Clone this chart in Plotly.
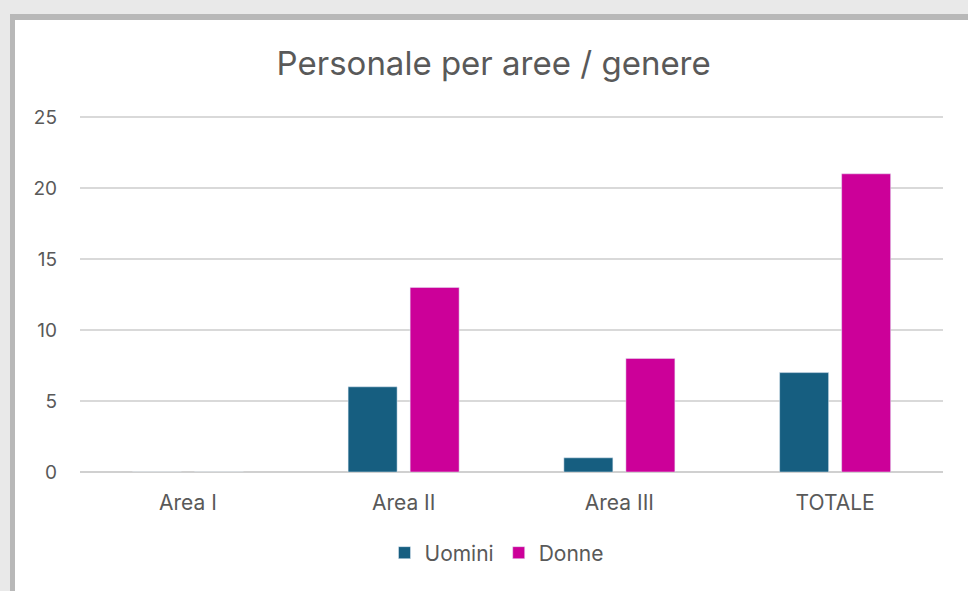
import plotly.graph_objects as go

categories = ["Area I", "Area II", "Area III", "TOTALE"]
uomini = [0, 6, 1, 7]
donne = [0, 13, 8, 21]
y_ticks = [0, 5, 10, 15, 20, 25]

W, H = 968, 591
ML, MR, MT, MB = 80, 25, 112, 119
Y_TOP_PX, Y_ZERO_PX = 117, 472
unit_px = (Y_ZERO_PX - Y_TOP_PX) / 25
y_max = 25 + (Y_TOP_PX - MT) / unit_px
PW, PH = W - ML - MR, H - MT - MB

def px(x):
    return (x - ML) / PW

def py(y):
    return (H - MB - y) / PH

fig = go.Figure()
fig.add_trace(go.Bar(name="Uomini", x=categories, y=uomini, marker_color="#165e80"))
fig.add_trace(go.Bar(name="Donne", x=categories, y=donne, marker_color="#cc0099"))

font_fam = "Inter, Liberation Sans, Arial, sans-serif"
fig.update_layout(
    width=W, height=H,
    margin=dict(l=ML, r=MR, t=MT, b=MB),
    paper_bgcolor="#e9e9e9",
    plot_bgcolor="white",
    barmode="group",
    bargap=0.425,
    bargroupgap=0.21,
    font=dict(family=font_fam, color="#595959", size=19),
    title=dict(text="Personale per aree / genere", x=0.51, xanchor="center",
               y=1 - 63 / H, yanchor="middle",
               font=dict(size=33, color="#595959", family=font_fam)),
    legend=dict(orientation="h", x=px(497), xanchor="center", y=py(553), yanchor="middle",
                bgcolor="rgba(0,0,0,0)", itemwidth=30,
                font=dict(size=21, color="#595959"), traceorder="normal"),
    xaxis=dict(showgrid=False, showline=False, ticks="", ticklabelstandoff=16,
               tickfont=dict(size=21)),
    yaxis=dict(range=[0, y_max], tickvals=y_ticks, showgrid=True, gridcolor="#d9d9d9",
               gridwidth=1.5, zeroline=True, zerolinecolor="#d0d0d0", zerolinewidth=2,
               ticks="", ticklabelstandoff=22, tickfont=dict(size=19)),
    shapes=[
        dict(type="rect", xref="paper", yref="paper", layer="below",
             x0=px(10), x1=px(980), y0=py(600), y1=py(14),
             fillcolor="#b8b8b8", line=dict(width=0)),
        dict(type="rect", xref="paper", yref="paper", layer="below",
             x0=px(15), x1=px(980), y0=py(600), y1=py(20),
             fillcolor="white", line=dict(width=0)),
    ],
)

fig.write_html("out.html", config={"displayModeBar": False},
               post_script="document.body.style.margin='0';")
